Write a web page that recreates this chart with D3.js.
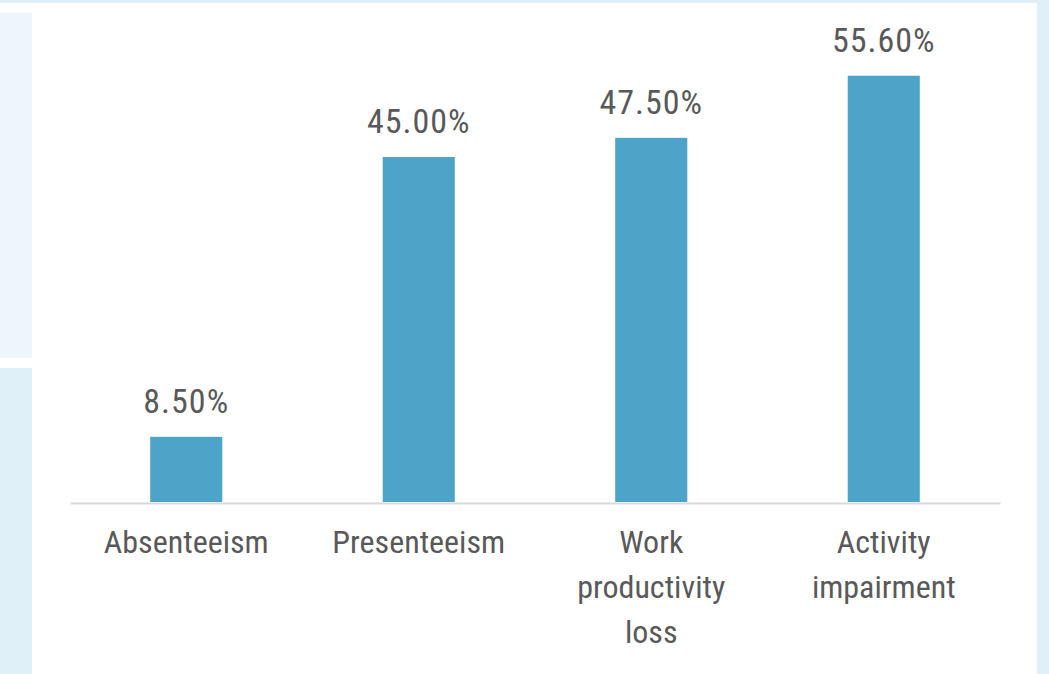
<!DOCTYPE html>
<html>
<head>
<meta charset="utf-8">
<script src="https://cdn.jsdelivr.net/npm/d3@7"></script>
<style>
  html, body { margin: 0; padding: 0; background: #fff; }
  svg { display: block; }
  .lbl { font-family: Roboto, sans-serif; font-stretch: 75%; }
</style>
</head>
<body>
<script>
// data
const categories = ["Absenteeism", "Presenteeism", "Work\nproductivity\nloss", "Activity\nimpairment"];
const values = [8.5, 45.0, 47.5, 55.6];
const valueLabels = ["8.50%", "45.00%", "47.50%", "55.60%"];

const width = 1049;
const height = 674;

const svg = d3.select("body")
  .append("svg")
  .attr("width", width)
  .attr("height", height);

// page decoration: light blue strips and side panels
svg.append("rect").attr("x", 0).attr("y", 0).attr("width", width).attr("height", 3).attr("fill", "#e0f0f8");
svg.append("rect").attr("x", 1037).attr("y", 0).attr("width", 12).attr("height", height).attr("fill", "#e0f0f8");
svg.append("rect").attr("x", 0).attr("y", 13).attr("width", 32).attr("height", 345).attr("fill", "#edf7fb");
svg.append("rect").attr("x", 0).attr("y", 368).attr("width", 32).attr("height", 306).attr("fill", "#e0f0f8");

// scales
const x = d3.scaleBand()
  .domain(categories)
  .range([70, 1000])
  .paddingInner(0.69)
  .paddingOuter(0.345);

const y = d3.scaleLinear()
  .domain([0, 60])
  .range([502, 42]);

// bars
svg.selectAll("rect.bar")
  .data(values)
  .enter()
  .append("rect")
  .attr("class", "bar")
  .attr("x", (d, i) => x(categories[i]))
  .attr("y", d => y(d))
  .attr("width", x.bandwidth())
  .attr("height", d => y(0) - y(d))
  .attr("fill", "#4ea3c8");

// baseline axis
const xAxis = svg.append("g")
  .attr("transform", `translate(0,${y(0) + 1})`)
  .call(d3.axisBottom(x).tickSize(0).tickSizeOuter(0).tickFormat(""));
xAxis.select(".domain").attr("stroke", "#d9d9d9").attr("stroke-width", 2);

// value labels
svg.selectAll("text.value")
  .data(values)
  .enter()
  .append("text")
  .attr("class", "value lbl")
  .attr("x", (d, i) => x(categories[i]) + x.bandwidth() / 2)
  .attr("y", d => y(d) - 24)
  .attr("text-anchor", "middle")
  .attr("font-size", 34)
  .attr("letter-spacing", 1)
  .attr("fill", "#595959")
  .text((d, i) => valueLabels[i]);

// category labels
const cat = svg.selectAll("text.cat")
  .data(categories)
  .enter()
  .append("text")
  .attr("class", "cat lbl")
  .attr("text-anchor", "middle")
  .attr("font-size", 32)
  .attr("fill", "#595959");

cat.each(function (d) {
  const cx = x(d) + x.bandwidth() / 2;
  d3.select(this).selectAll("tspan")
    .data(d.split("\n"))
    .enter()
    .append("tspan")
    .attr("x", cx)
    .attr("y", (t, j) => 553 + j * 45)
    .text(t => t);
});
</script>
</body>
</html>
